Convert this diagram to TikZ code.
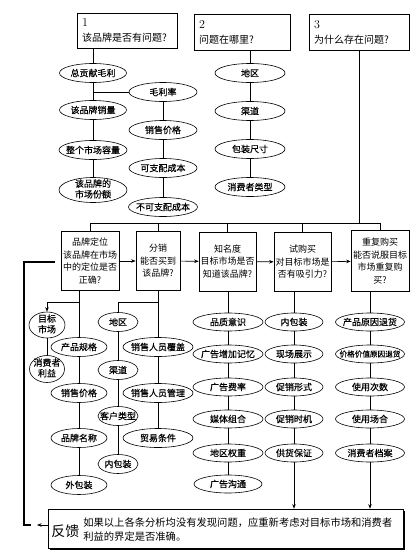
\documentclass[tikz,border=0pt]{standalone}
\usepackage{fontspec}
\newfontfamily\cjk{Noto Sans CJK SC}
\newfontfamily\cjkb[FakeBold=0.35]{Noto Sans CJK SC}
\usetikzlibrary{shapes.geometric,arrows.meta,shadows}
\newcommand\zb[1]{\makebox[0pt]{#1}}
\newcommand\tl[1]{\begin{tabular}{@{}c@{}}#1\end{tabular}}
\begin{document}
\begin{tikzpicture}[x=1pt,y=-1pt,line width=0.6pt,
  ov/.style={draw,ellipse,inner sep=0pt,minimum height=19pt,font=\cjkb\fontsize{9}{10}\selectfont},
  ov2/.style={ov,inner ysep=-2pt},
  topbox/.style={draw,rectangle,line width=0.7pt,inner xsep=5pt,inner ysep=0pt,align=left,font=\cjk\fontsize{10}{15}\selectfont},
  qbox/.style={draw,rectangle,line width=0.7pt,inner sep=0pt,align=center,minimum height=59pt,font=\cjk\fontsize{9}{12.5}\selectfont},
  arr/.style={-{Stealth[length=4.5pt,width=3.5pt]}},
]
\useasboundingbox (0,0) rectangle (415,554);
\newcommand\nm[1]{{\normalfont\fontsize{12}{15}\selectfont #1}}
% top boxes
\node[topbox,minimum width=100pt,minimum height=35pt,text width=90pt] (b1) at (127,30.5) {\nm{1}\\该品牌是否有问题?};
\node[topbox,minimum width=96pt,minimum height=36pt,text width=86pt] (b2) at (242,32) {\nm{2}\\问题在哪里?};
\node[topbox,minimum width=100pt,minimum height=36pt,text width=90pt] (b3) at (359,32) {\nm{3}\\为什么存在问题?};
% column 1
\node[ov,minimum width=67pt] (e11) at (93,73) {\zb{总贡献毛利}};
\node[ov,minimum width=67pt] (e12) at (93,110) {\zb{该品牌销量}};
\node[ov,minimum width=68pt] (e13) at (93,150) {\zb{整个市场容量}};
\node[ov2,minimum width=68pt,minimum height=25pt] (e14) at (93,190) {\zb{\tl{该品牌的\\市场份额}}};
\draw (b1.south -| e11) -- (e11) -- (e12) -- (e13) -- (e14);
\node[ov,minimum width=68pt] (e21) at (163,92) {\zb{毛利率}};
\node[ov,minimum width=68pt] (e22) at (163,130) {\zb{销售价格}};
\node[ov,minimum width=68pt] (e23) at (163,168) {\zb{可支配成本}};
\node[ov,minimum width=69pt] (e24) at (163,207) {\zb{不可支配成本}};
\coordinate (br1) at (93,92);
\draw (br1) -- (e21.west);
\draw (e21) -- (e22) -- (e23) -- (e24);
% column 2
\node[ov,minimum width=70pt] (f1) at (250,73) {\zb{地区}};
\node[ov,minimum width=70pt] (f2) at (250,111) {\zb{渠道}};
\node[ov,minimum width=70pt] (f3) at (250,149) {\zb{包装尺寸}};
\node[ov,minimum width=70pt] (f4) at (250,187) {\zb{消费者类型}};
\draw (b2.south -| f1) -- (f1) -- (f2) -- (f3) -- (f4);
% question boxes
\node[qbox,text width=58pt] (qA) at (90,261) {品牌定位\\该品牌在市场\\中的定位是否\\正确?};
\node[qbox,text width=44pt] (qB) at (158,261) {分销\\能否买到\\该品牌?};
\node[qbox,text width=57pt] (qC) at (227.5,261.5) {知名度\\目标市场是否\\知道该品牌?};
\node[qbox,text width=57pt] (qD) at (302.5,262) {试购买\\对目标市场是\\否有吸引力?};
\node[qbox,text width=58pt,minimum height=61pt] (qE) at (380,261) {重复购买\\能否说服目标\\市场重复购\\买?};
\coordinate (hL) at (90,223);
\draw (b3.south) -- (b3.south |- hL);
\draw (qA.north) -- (qA.north |- hL) -- (qE.north |- hL) -- (qE.north);
\draw (qB.north |- hL) -- (qB.north);
\draw (qC.north |- hL) -- (qC.north);
\draw (qD.north |- hL) -- (qD.north);
\draw[arr] (qA) -- (qB);
\draw[arr] (qB) -- (qC);
\draw[arr] (qC) -- (qD);
\draw[arr] (qD) -- (qE);
% column A
\node[ov,minimum width=56pt] (a1) at (79,347) {\zb{产品规格}};
\node[ov,minimum width=56pt] (a2) at (79,393) {\zb{销售价格}};
\node[ov,minimum width=56pt] (a3) at (79,438) {\zb{品牌名称}};
\node[ov,minimum width=56pt] (a4) at (79,485) {\zb{外包装}};
\draw (qA.south -| a1) -- (a1) -- (a2) -- (a3) -- (a4);
\node[ov2,minimum width=36pt,minimum height=26pt] (t1) at (47,325) {\zb{\tl{目标\\市场}}};
\node[ov2,minimum width=35pt,minimum height=27pt] (t2) at (47,369) {\zb{\tl{消费者\\利益}}};
\coordinate (ba) at (79,302);
\draw[arr] (ba) -- (ba -| t1) -- (t1);
\draw (t1) -- (t2);
% column B
\node[ov,minimum width=40pt] (c1) at (118,322) {\zb{地区}};
\node[ov,minimum width=40pt] (c2) at (118,370) {\zb{渠道}};
\node[ov,minimum width=40pt] (c3) at (118,416) {\zb{客户类型}};
\node[ov,minimum width=40pt] (c4) at (118,464) {\zb{内包装}};
\node[ov,minimum width=70pt] (d1) at (158,347) {\zb{销售人员覆盖}};
\node[ov,minimum width=70pt] (d2) at (158,393) {\zb{销售人员管理}};
\node[ov,minimum width=70pt] (d3) at (158,438) {\zb{贸易条件}};
\draw (qB.south) -- (d1) -- (d2) -- (d3);
\coordinate (bb) at (158,302);
\draw (bb) -- (bb -| c1) -- (c1) -- (c2) -- (c3) -- (c4);
% column C
\node[ov,minimum width=70pt,minimum height=18pt] (g1) at (228,322) {\zb{品质意识}};
\node[ov,minimum width=70pt,minimum height=18pt] (g2) at (228,354) {\zb{广告增加记忆}};
\node[ov,minimum width=70pt,minimum height=18pt] (g3) at (228,387) {\zb{广告费率}};
\node[ov,minimum width=70pt,minimum height=18pt] (g4) at (228,419) {\zb{媒体组合}};
\node[ov,minimum width=70pt,minimum height=18pt] (g5) at (228,453) {\zb{地区权重}};
\node[ov,minimum width=68pt,minimum height=18pt] (g6) at (228,484) {\zb{广告沟通}};
\draw (qC.south -| g1) -- (g1) -- (g2) -- (g3) -- (g4) -- (g5) -- (g6);
% feedback box
\node[draw,fill=white,minimum width=355pt,minimum height=39pt,inner sep=0pt,line width=0.7pt,
  drop shadow={shadow xshift=2pt,shadow yshift=-2pt,opacity=1,fill=black}] (fb) at (225.5,528.5) {};
\node[anchor=west,inner sep=0pt,font=\cjk\fontsize{14}{14}\selectfont] (fbh) at (51,531) {反馈};
\node[anchor=west,inner sep=0pt,align=left,font=\cjk\fontsize{10.3}{14}\selectfont] (fbt) at (83,530) {如果以上各条分析均没有发现问题，应重新考虑对目标市场和消费者\\利益的界定是否准确。};
% column D
\node[ov,minimum width=58pt,minimum height=18pt] (h1) at (294,322) {\zb{内包装}};
\node[ov,minimum width=58pt,minimum height=18pt] (h2) at (294,354) {\zb{现场展示}};
\node[ov,minimum width=58pt,minimum height=18pt] (h3) at (294,387) {\zb{促销形式}};
\node[ov,minimum width=58pt,minimum height=18pt] (h4) at (294,419) {\zb{促销时机}};
\node[ov,minimum width=58pt,minimum height=18pt] (h5) at (294,453) {\zb{供货保证}};
\draw (qD.south -| h1) -- (h1) -- (h2) -- (h3) -- (h4) -- (h5);
\draw[arr] (h5) -- (h5 |- fb.north);
% column E
\node[ov,minimum width=69pt,minimum height=18pt] (k1) at (370,322) {\zb{产品原因退货}};
\node[ov,minimum width=69pt,minimum height=18pt] (k2) at (370,354) {\zb{\fontsize{7.6}{9}\selectfont 价格价值原因退货}};
\node[ov,minimum width=69pt,minimum height=18pt] (k3) at (370,387) {\zb{使用次数}};
\node[ov,minimum width=69pt,minimum height=18pt] (k4) at (370,419) {\zb{使用场合}};
\node[ov,minimum width=69pt,minimum height=18pt] (k5) at (370,453) {\zb{消费者档案}};
\draw (qE.south -| k1) -- (k1) -- (k2) -- (k3) -- (k4) -- (k5);
\draw[arr] (k5) -- (k5 |- fb.north);
% thick feedback loop
\coordinate (tk1) at (55,262);
\coordinate (tk2) at (24,262);
\coordinate (tk3) at (24,525);
\coordinate (tk4) at (31,525);
\coordinate (tkA) at (37,525);
\draw[line width=2.6pt] (tk1) -- (tk2) -- (tk3) -- (tk4);
\draw[arr] ([yshift=3.5pt]fb.west) -- (tkA);
\end{tikzpicture}
\end{document}
